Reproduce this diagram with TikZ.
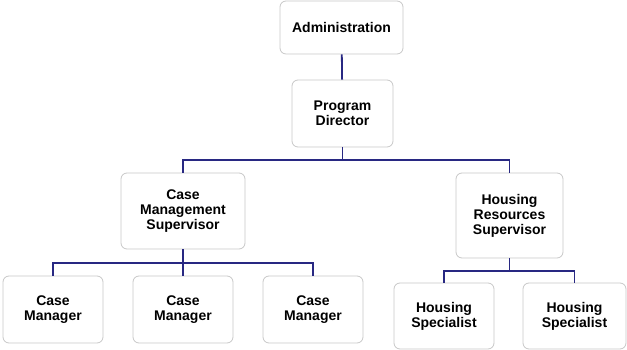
\documentclass[tikz,border=0pt]{standalone}
\usepackage{fontspec}
\setmainfont{Liberation Sans}
\definecolor{linkblue}{RGB}{40,40,130}
\definecolor{boxgray}{RGB}{200,200,200}

\begin{document}
\begin{tikzpicture}[x=1pt,y=1pt,
		box/.style={draw=boxgray,line width=0.8pt,rounded corners=6pt,fill=white,align=center,inner sep=0pt,font=\bfseries\fontsize{14}{15}\selectfont},
		link/.style={draw=linkblue,line width=1.8pt}]
		\useasboundingbox (0,0) rectangle (627,350);
		%top
		\node[box,minimum width=123pt,minimum height=53pt] (adm) at (341.5,322.5) {Administration};
		\node[box,minimum width=101pt,minimum height=67pt] (pd) at (342.5,236.5) {Program\\Director};
		%supervisors
		\node[box,minimum width=124pt,minimum height=76pt] (cms) at (183,139) {Case\\Management\\Supervisor};
		\node[box,minimum width=107pt,minimum height=85pt] (hrs) at (509.5,134.5) {Housing\\Resources\\Supervisor};
		%staff
		\node[box,minimum width=100pt,minimum height=67pt] (cm1) at (53,40.5) {Case\\Manager};
		\node[box,minimum width=100pt,minimum height=67pt] (cm2) at (183,40.5) {Case\\Manager};
		\node[box,minimum width=100pt,minimum height=67pt] (cm3) at (313,40.5) {Case\\Manager};
		\node[box,minimum width=100pt,minimum height=66pt] (hs1) at (444,34) {Housing\\Specialist};
		\node[box,minimum width=103pt,minimum height=66pt] (hs2) at (574.5,34) {Housing\\Specialist};
		%bars
		\coordinate (pdbar) at (pd.south |- 0,190);
		\coordinate (cmbar) at (cms.south |- 0,87);
		\coordinate (hsbar) at (hrs.south |- 0,79);
		%links
		\draw[link] (adm) -- (pd);
		\draw[link] (pd) -- (pdbar);
		\draw[link] (pdbar) -| (cms);
		\draw[link] (pdbar) -| (hrs);
		\draw[link] (cms) -- (cmbar);
		\draw[link] (cmbar) -| (cm1);
		\draw[link] (cmbar) -- (cm2);
		\draw[link] (cmbar) -| (cm3);
		\draw[link] (hrs) -- (hsbar);
		\draw[link] (hsbar) -| (hs1);
		\draw[link] (hsbar) -| (hs2);
	\end{tikzpicture}
\end{document}
